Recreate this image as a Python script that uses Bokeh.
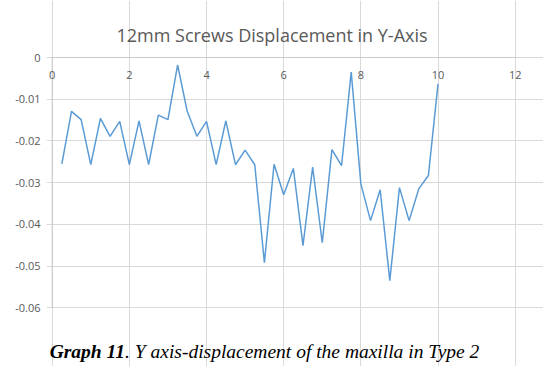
from bokeh.plotting import figure
from bokeh.models import Range1d, FixedTicker, Grid
from bokeh.embed import file_html
from bokeh.resources import INLINE
from bokeh.core.properties import value

# ---- data ----
x_vals = [0.25, 0.5, 0.75, 1.0, 1.25, 1.5, 1.75, 2.0, 2.25, 2.5,
          2.75, 3.0, 3.25, 3.5, 3.75, 4.0, 4.25, 4.5, 4.75, 5.0,
          5.25, 5.5, 5.75, 6.0, 6.25, 6.5, 6.75, 7.0, 7.25, 7.5,
          7.75, 8.0, 8.25, 8.5, 8.75, 9.0, 9.25, 9.5, 9.75, 10.0]
y_vals = [-0.0255, -0.0129, -0.0149, -0.0257, -0.0146, -0.0189, -0.0153, -0.0257, -0.0152, -0.0257,
          -0.0138, -0.0149, -0.0018, -0.0129, -0.0189, -0.0153, -0.0257, -0.0152, -0.0257, -0.0222,
          -0.0257, -0.0492, -0.0256, -0.0329, -0.0266, -0.0451, -0.0263, -0.0444, -0.0221, -0.0259,
          -0.0035, -0.0303, -0.0391, -0.0317, -0.0535, -0.0312, -0.0391, -0.0315, -0.0283, -0.0063]
x_ticks = [0, 2, 4, 6, 8, 10, 12]
x_tick_labels = ["0", "2", "4", "6", "8", "10", "12"]
y_ticks = [0, -0.01, -0.02, -0.03, -0.04, -0.05, -0.06]
y_tick_labels = ["0", "-0.01", "-0.02", "-0.03", "-0.04", "-0.05", "-0.06"]
title_text = "12mm Screws Displacement in Y-Axis"
caption_bold = "Graph 11"
caption_rest = ". Y axis-displacement of the maxilla in Type 2"

LABEL_COLOR = "#595959"
GRID_COLOR = "#d9d9d9"
AXIS_COLOR = "#c9c9c9"
LINE_COLOR = "#5b9bd5"

# ---- layout (pixels from the top-left of the figure) ----
FIG_W, FIG_H = 543, 366
FRAME_LEFT = 46          # left edge of the drawing frame (y-axis labels sit left of it)
PLOT_LEFT = 51.7         # x = 0
PLOT_RIGHT = 514.7       # x = 12
PLOT_TOP = 57.0          # y = 0
PLOT_BOTTOM = 307.3      # y = -0.06
X_MIN, X_MAX = 0, 12
Y_MIN, Y_MAX = -0.06, 0

sx = (PLOT_RIGHT - PLOT_LEFT) / (X_MAX - X_MIN)
sy = (PLOT_BOTTOM - PLOT_TOP) / (Y_MAX - Y_MIN)
x_start = X_MIN - (PLOT_LEFT - FRAME_LEFT) / sx
x_end = X_MAX + (FIG_W - PLOT_RIGHT) / sx
y_top = Y_MAX + PLOT_TOP / sy
y_bot = Y_MIN - (FIG_H - PLOT_BOTTOM) / sy


def dx(px):
    return X_MIN + (px - PLOT_LEFT) / sx


def dy(py):
    return Y_MAX - (py - PLOT_TOP) / sy


p = figure(width=FIG_W, height=FIG_H,
           x_range=Range1d(x_start, x_end), y_range=Range1d(y_bot, y_top),
           output_backend="svg", toolbar_location=None,
           x_axis_location=None,
           min_border_left=FRAME_LEFT, min_border_right=0,
           min_border_top=0, min_border_bottom=0)
p.background_fill_color = "white"
p.border_fill_color = "white"
p.outline_line_color = None

for g in list(p.grid):
    g.visible = False
p.add_layout(Grid(dimension=0, ticker=FixedTicker(ticks=x_ticks), bounds=(Y_MIN, Y_MAX),
                  grid_line_color=GRID_COLOR, grid_line_width=1))
p.add_layout(Grid(dimension=1, ticker=FixedTicker(ticks=y_ticks), bounds=(X_MIN, X_MAX),
                  grid_line_color=GRID_COLOR, grid_line_width=1))
# axis lines at x = 0 and y = 0 (slightly darker than the grid)
p.segment(x0=[X_MIN, X_MIN], y0=[Y_MIN, Y_MAX], x1=[X_MIN, X_MAX], y1=[Y_MAX, Y_MAX],
          line_color=AXIS_COLOR, line_width=1)

# y axis (labels only; its line is drawn at x = 0 above)
ya = p.yaxis[0]
ya.ticker = FixedTicker(ticks=y_ticks)
ya.bounds = (Y_MIN, Y_MAX)
ya.major_label_overrides = dict(zip(y_ticks, y_tick_labels))
ya.major_tick_in = 0
ya.major_tick_out = 0
ya.minor_tick_in = 0
ya.minor_tick_out = 0
ya.axis_line_color = None
ya.major_label_standoff = 6
ya.major_label_text_font = "Open Sans"
ya.major_label_text_font_size = "11px"
ya.major_label_text_color = LABEL_COLOR

# x tick labels just below the y = 0 line
p.text(x=x_ticks, y=[0] * len(x_ticks), text=x_tick_labels,
       y_offset=17, text_align="center", text_baseline="middle",
       text_font=value("Open Sans"), text_font_size="11px", text_color=LABEL_COLOR)

# data line
p.line(x_vals, y_vals, line_color=LINE_COLOR, line_width=1.5)

# title
p.text(x=[dx(271.5)], y=[dy(34.3)], text=[title_text],
       text_align="center", text_baseline="alphabetic",
       text_font=value("Open Sans"), text_font_size="18px", text_color=LABEL_COLOR)

# caption
CAP_SPLIT = 124.5
CAP_BASE = 351.0
p.text(x=[dx(CAP_SPLIT)], y=[dy(CAP_BASE)], text=[caption_bold],
       text_align="right", text_baseline="alphabetic",
       text_font=value("Liberation Serif"), text_font_size="19.5px",
       text_font_style="bold italic", text_color="black")
p.text(x=[dx(CAP_SPLIT)], y=[dy(CAP_BASE)], text=[caption_rest],
       text_align="left", text_baseline="alphabetic",
       text_font=value("Liberation Serif"), text_font_size="19.5px",
       text_font_style="italic", text_color="black")

open("out.html", "w").write(file_html(p, INLINE))
